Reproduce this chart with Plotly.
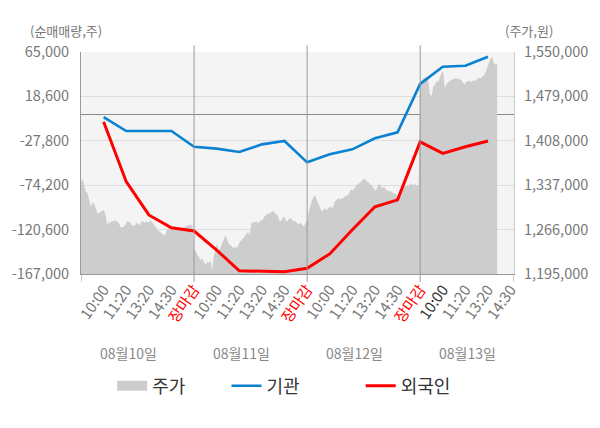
import plotly.graph_objects as go

# ---------------- data ----------------
time_labels = ["10:00", "11:20", "13:20", "14:30", "장마감"]
day4_labels = ["10:00", "11:20", "13:20", "14:30"]
dates = ["08월10일", "08월11일", "08월12일", "08월13일"]

# 기관 (institution) cumulative net buying, shares
inst = [-3000, -17600, -17600, -17600, -34000,
        -36000, -39500, -31500, -28000, -50300,
        -41900, -36700, -25200, -18900, 31600,
        49600, 50700, 60000]

# 외국인 (foreign) cumulative net buying, shares
foreign = [-7800, -70500, -105300, -118600, -122100,
           -142000, -163700, -164300, -164600, -161100,
           -146000, -120800, -96700, -89500, -29000,
           -41000, -34000, -28000]

# 주가 (price) intraday, per day
price_d1 = [1343000, 1347000, 1337000, 1327000, 1324000, 1313000, 1303000, 1309000, 1308000, 1300000,
            1292000, 1292000, 1295000, 1296000, 1297000, 1289000, 1273000, 1278000, 1277000, 1280000,
            1279000, 1281000, 1279000, 1277000, 1271000, 1269000, 1271000, 1273000, 1279000, 1279000,
            1277000, 1273000, 1272000, 1273000, 1277000, 1275000, 1273000, 1279000, 1279000, 1277000,
            1279000, 1277000, 1280000, 1279000, 1275000, 1272000, 1268000, 1265000, 1263000, 1261000,
            1259000, 1256000, 1263000, 1268000, 1268000, 1268000, 1267000, 1267000, 1266000, 1266000,
            1266000, 1267000, 1268000, 1270000, 1272000, 1273000, 1273000, 1273000, 1273000]
price_d2 = [1236000, 1231000, 1225000, 1220000, 1217000, 1220000, 1215000, 1209000, 1215000, 1212000,
            1217000, 1201000, 1223000, 1233000, 1244000, 1233000, 1236000, 1244000, 1249000, 1257000,
            1252000, 1244000, 1241000, 1238000, 1236000, 1239000, 1236000, 1241000, 1247000, 1249000,
            1252000, 1255000, 1259000, 1263000, 1257000, 1276000, 1277000, 1278000, 1279000, 1276000,
            1279000, 1281000, 1282000, 1287000, 1289000, 1292000, 1291000, 1294000, 1296000, 1293000,
            1291000, 1289000, 1281000, 1279000, 1284000, 1287000, 1281000, 1279000, 1284000, 1284000,
            1281000, 1280000, 1279000, 1276000, 1275000, 1277000, 1273000, 1271000, 1276000]
price_d3 = [1281000, 1295000, 1305000, 1313000, 1319000, 1321000, 1313000, 1305000, 1300000, 1295000,
            1297000, 1300000, 1297000, 1300000, 1303000, 1300000, 1303000, 1311000, 1314000, 1316000,
            1314000, 1316000, 1316000, 1319000, 1320000, 1321000, 1327000, 1330000, 1329000, 1334000,
            1337000, 1339000, 1340000, 1343000, 1346000, 1348000, 1344000, 1343000, 1340000, 1337000,
            1335000, 1330000, 1329000, 1334000, 1339000, 1336000, 1332000, 1335000, 1330000, 1329000,
            1327000, 1328000, 1325000, 1324000, 1323000, 1320000, 1324000, 1329000, 1332000, 1334000,
            1335000, 1335000, 1336000, 1337000, 1339000, 1337000, 1339000, 1336000, 1336000]
price_d4 = [1500000, 1505000, 1508000, 1509000, 1511000, 1503000, 1481000, 1480000, 1495000, 1497000,
            1503000, 1502000, 1511000, 1516000, 1520000, 1492000, 1498000, 1502000, 1504000, 1505000,
            1507000, 1508000, 1507000, 1508000, 1506000, 1505000, 1502000, 1498000, 1502000, 1503000,
            1504000, 1502000, 1503000, 1505000, 1504000, 1508000, 1509000, 1508000, 1511000, 1513000,
            1518000, 1526000, 1532000, 1540000, 1542000, 1532000, 1530000, 1532000]

left_ticks = [65000, 18600, -27800, -74200, -120600, -167000]
right_ticks = [1550000, 1479000, 1408000, 1337000, 1266000, 1195000]

# ---------------- derived positions ----------------
slots = len(time_labels)                     # slots per trading day
samples_per_day = len(price_d1)
price_days = [price_d1, price_d2, price_d3, price_d4]

px_x, px_y = [], []
for d, day in enumerate(price_days):
    for i, v in enumerate(day):
        px_x.append(d * slots + i * slots / samples_per_day)
        px_y.append(v)

GREY = "#777777"
RED = "#ff0000"
tick_text = []
for d in range(3):
    for lab in time_labels:
        if lab == "장마감":
            tick_text.append(f'<span style="color:{RED}">{lab}</span>')
        else:
            tick_text.append(lab)
for j, lab in enumerate(day4_labels):
    tick_text.append(f'<span style="color:#333333">{lab}</span>' if j == 0 else lab)
tick_vals = list(range(1, len(tick_text) + 1))
line_x = list(range(1, len(inst) + 1))
x_end = len(tick_text) + 0.15

FONT = "Noto Sans CJK KR"

fig = go.Figure()

# price area (primary y, right side)
fig.add_trace(go.Scatter(
    x=px_x, y=px_y, mode="lines", fill="tozeroy",
    line=dict(width=0, color="#cdcdcd"), fillcolor="#cdcdcd",
    yaxis="y", showlegend=False, hoverinfo="skip"))

# legend proxies
fig.add_trace(go.Scatter(x=[None], y=[None], mode="lines", name="주가",
                         line=dict(color="#cdcdcd", width=14), yaxis="y",
                         legend="legend"))

fig.add_trace(go.Scatter(
    x=line_x, y=inst, mode="lines", name="기관",
    line=dict(color="#0a82d2", width=2.6), yaxis="y2", legend="legend2"))
fig.add_trace(go.Scatter(
    x=line_x, y=foreign, mode="lines", name="외국인",
    line=dict(color=RED, width=3), yaxis="y2", legend="legend3"))

shapes = []
for b in range(1, len(price_days)):
    shapes.append(dict(type="line", xref="x", yref="paper", x0=b * slots, x1=b * slots,
                       y0=-0.035, y1=1.03, line=dict(color="#9a9a9a", width=1), layer="above"))
for b in [0, x_end]:
    shapes.append(dict(type="line", xref="x", yref="paper", x0=b, x1=b,
                       y0=-0.035, y1=0, line=dict(color="#9a9a9a", width=1), layer="above"))

annotations = [
    dict(text="(순매매량,주)", xref="paper", yref="paper", x=-0.123, y=1.097,
         xanchor="left", yanchor="middle", showarrow=False,
         font=dict(family=FONT, size=13, color=GREY)),
    dict(text="(주가,원)", xref="paper", yref="paper", x=0.975, y=1.097,
         xanchor="left", yanchor="middle", showarrow=False,
         font=dict(family=FONT, size=13, color=GREY)),
]
for d, lab in enumerate(dates):
    annotations.append(dict(text=lab, xref="x", yref="paper", x=d * slots + 2.1, y=-0.356,
                            xanchor="center", yanchor="middle", showarrow=False,
                            font=dict(family=FONT, size=14, color="#888888")))

legend_common = dict(orientation="h", yref="paper", y=-0.505, yanchor="middle",
                     xanchor="left", bgcolor="rgba(0,0,0,0)",
                     font=dict(family=FONT, size=18, color="#333333"),
                     itemwidth=30)

fig.update_layout(
    width=600, height=428,
    margin=dict(l=76, r=80, t=52, b=154),
    paper_bgcolor="white", plot_bgcolor="#f4f4f4",
    font=dict(family=FONT, size=14, color=GREY),
    xaxis=dict(range=[0, x_end], tickmode="array", tickvals=tick_vals, ticktext=tick_text,
               tickangle=-55, showgrid=False, zeroline=False, showline=True,
               linecolor="#9a9a9a", linewidth=1, ticks="",
               tickfont=dict(family=FONT, size=15, color=GREY)),
    yaxis=dict(range=[right_ticks[-1], right_ticks[0]], side="right", tickmode="array",
               tickvals=right_ticks, ticktext=[f"{v:,}" for v in right_ticks],
               showgrid=False, zeroline=False, showline=True, linecolor="#cccccc",
               ticks="", ticklabelstandoff=6,
               tickfont=dict(family=FONT, size=14.5, color=GREY)),
    yaxis2=dict(range=[left_ticks[-1], left_ticks[0]], side="left", overlaying="y",
                tickmode="array", tickvals=left_ticks,
                ticktext=[f"{v:,}" for v in left_ticks],
                showgrid=True, gridcolor="#dddddd", gridwidth=1,
                zeroline=True, zerolinecolor="#8a8a8a", zerolinewidth=1,
                showline=True, linecolor="#9a9a9a", ticks="", ticklabelstandoff=8,
                tickfont=dict(family=FONT, size=14.5, color=GREY)),
    legend=dict(x=0.072, **legend_common),
    legend2=dict(x=0.336, **legend_common),
    legend3=dict(x=0.646, **legend_common),
    shapes=shapes, annotations=annotations,
)

fig.write_html("out.html", config={"displayModeBar": False},
               post_script="document.body.style.margin='0px';")
